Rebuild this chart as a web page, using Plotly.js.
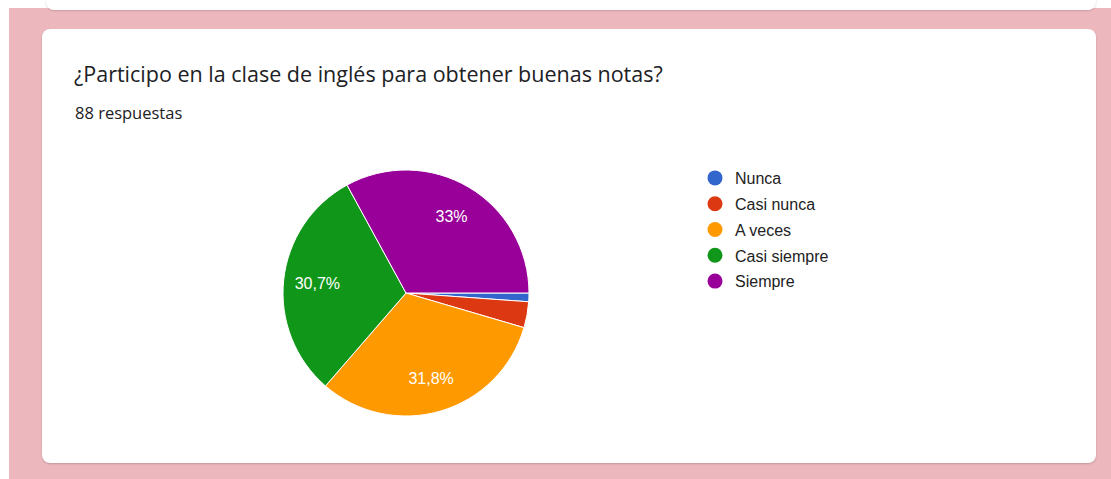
<!DOCTYPE html>
<html>
<head>
<meta charset="utf-8">
<script src="https://cdn.plot.ly/plotly-3.0.1.min.js"></script>
<style>
  html, body { margin: 0; padding: 0; background: #ffffff; width: 1111px; height: 479px; overflow: hidden; }
  #pink { position: absolute; left: 9px; top: 8px; width: 1102px; height: 471px; background: #ecb8bd; }
  #prev { position: absolute; left: 46px; top: -10px; width: 1050px; height: 20px; background: #fff; border-radius: 8px; box-shadow: 0 1px 2px rgba(0,0,0,0.15); }
  #card { position: absolute; left: 42px; top: 29px; width: 1054px; height: 434px; background: #fff; border-radius: 8px; box-shadow: 0 1px 2px rgba(0,0,0,0.18); }
  #chart { position: absolute; left: 0; top: 0; width: 1111px; height: 479px; }
</style>
</head>
<body>
<div id="pink"></div>
<div id="prev"></div>
<div id="card"></div>
<div id="chart"></div>
<script>
const questionTitle = "¿Participo en la clase de inglés para obtener buenas notas?";
const responsesLabel = "88 respuestas";
const categories = ["Nunca", "Casi nunca", "A veces", "Casi siempre", "Siempre"];
const counts = [1, 3, 28, 27, 29];
const colors = ["#3366cc", "#dc3912", "#ff9900", "#109618", "#990099"];

const total = counts.reduce((a, b) => a + b, 0);
const pctText = counts.map(v => {
  const p = v / total * 100;
  if (p < 5) return "";
  const r = Math.round(p * 10) / 10;
  return String(r).replace(".", ",") + "%";
});

const W = 1111, H = 479;
const px = x => x / W;
const py = y => 1 - y / H;
const pieDomain = { x: [px(283), px(529)], y: [py(416), py(170)] };

const traces = [{
  type: "pie",
  labels: categories,
  values: counts,
  textinfo: "none",
  sort: false,
  direction: "clockwise",
  rotation: 90,
  marker: { colors: colors, line: { color: "#ffffff", width: 1 } },
  domain: pieDomain,
  showlegend: false,
  hoverinfo: "label+value+percent"
}, {
  // transparent ring that carries the percentage labels further out
  type: "pie",
  labels: categories,
  values: counts,
  text: pctText,
  textinfo: "text",
  texttemplate: "%{text}",
  textposition: "inside",
  insidetextorientation: "horizontal",
  textfont: { family: "Arial, 'Liberation Sans', sans-serif", size: 16, color: "#ffffff" },
  hole: 0.45,
  sort: false,
  direction: "clockwise",
  rotation: 90,
  marker: { colors: categories.map(() => "rgba(0,0,0,0)"), line: { width: 0 } },
  domain: pieDomain,
  showlegend: false,
  hoverinfo: "skip"
}];

categories.forEach((c, i) => {
  traces.push({
    type: "scatter",
    mode: "markers",
    x: [null], y: [null],
    name: c,
    legendgroup: "g" + i,
    marker: { color: colors[i], size: 15, symbol: "circle" },
    showlegend: true,
    hoverinfo: "skip"
  });
});

const layout = {
  width: W, height: H,
  margin: { l: 0, r: 0, t: 0, b: 0 },
  paper_bgcolor: "rgba(0,0,0,0)",
  plot_bgcolor: "rgba(0,0,0,0)",
  xaxis: { visible: false, domain: [0.98, 1] },
  yaxis: { visible: false, domain: [0.98, 1] },
  title: {
    text: questionTitle,
    x: px(74), xanchor: "left", xref: "paper",
    y: py(74), yanchor: "middle", yref: "paper",
    font: { family: "'Open Sans', Roboto, sans-serif", size: 21.5, color: "#202124" }
  },
  annotations: [{
    text: responsesLabel,
    xref: "paper", yref: "paper",
    x: px(73), y: py(112),
    xanchor: "left", yanchor: "middle",
    showarrow: false,
    font: { family: "'Open Sans', Roboto, sans-serif", size: 16.5, color: "#202124" }
  }],
  showlegend: true,
  legend: {
    x: px(695), y: py(161), xanchor: "left", yanchor: "top",
    xref: "paper", yref: "paper",
    bgcolor: "rgba(0,0,0,0)",
    font: { family: "Arial, 'Liberation Sans', sans-serif", size: 16, color: "#222222" },
    tracegroupgap: 2,
    traceorder: "grouped",
    itemclick: false
  }
};

Plotly.newPlot("chart", traces, layout, { displayModeBar: false, staticPlot: true });
</script>
</body>
</html>
